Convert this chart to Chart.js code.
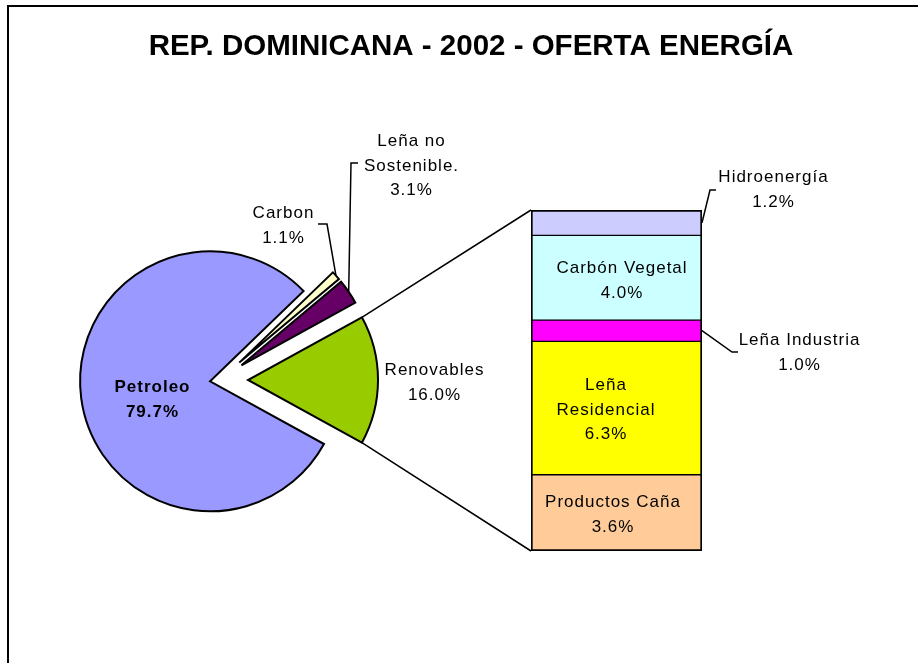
<!DOCTYPE html>
<html>
<head>
<meta charset="utf-8">
<script src="https://cdn.jsdelivr.net/npm/chart.js@4.4.1/dist/chart.umd.min.js"></script>
<style>
html, body { margin: 0; padding: 0; background: #fff; }
#wrap { position: relative; width: 918px; height: 663px; overflow: hidden; background: #fff; }
#frame { position: absolute; left: 7px; top: 5px; width: 2000px; height: 2000px; border: 2px solid #000; box-sizing: border-box; }
canvas { position: absolute; left: 0; top: 0; }
</style>
</head>
<body>
<div id="wrap">
  <div id="frame"></div>
  <canvas id="pie" width="918" height="663"></canvas>
  <canvas id="bar" width="918" height="663"></canvas>
</div>
<script>
// ---------- DATA ----------
const TITLE = 'REP. DOMINICANA - 2002 - OFERTA ENERGÍA';
const pieCategories = ['Petroleo', 'Carbon', 'Leña no Sostenible.', 'Renovables'];
const pieValues = [79.7, 1.1, 3.1, 16.0];
const barCategories = ['Productos Caña', 'Leña Residencial', 'Leña Industria', 'Carbón Vegetal', 'Hidroenergía'];
const barValues = [3.6, 6.3, 1.0, 4.0, 1.2];

// ---------- STYLE / LAYOUT ----------
const FONT = "'Liberation Sans', Arial, sans-serif";
const pieColors = ['#9999FF', '#FFFFCC', '#660066', '#99CC00'];
const barColors = ['#FFCC99', '#FFFF00', '#FF00FF', '#CCFFFF', '#CCCCFF'];
const pieExplode = [10, 26, 26, 28];
const pieWrap = { 'Leña no Sostenible.': ['Leña no', 'Sostenible.'] };
const barWrap = { 'Leña Residencial': ['Leña', 'Residencial'] };
const LH = 24.5;
// pie label block centres and leader elbows
const pieLabelPos = [
  { x: 152, y: 400, bold: true },
  { x: 283, y: 226, leader: [[327, 224], [318, 224]] },
  { x: 411, y: 166, leader: [[351, 163], [358, 163]] },
  { x: 434, y: 383 }
];
// bar labels: inside (dx, dy from segment centre) or outside with leader
const barLabelPos = [
  { inside: true, dx: -4, dy: 2 },
  { inside: true, dx: -11, dy: 2 },
  { x: 799, y: 353, leader: [[732, 352], [738, 352]] },
  { inside: true, dx: 5, dy: 3 },
  { x: 773, y: 190, leader: [[710, 190], [716, 190]] }
];

const pieTotal = pieValues.reduce((a, b) => a + b, 0);
const barTotal = barValues.reduce((a, b) => a + b, 0);
const pct = v => v.toFixed(1) + '%';

function linesFor(name, wrap) { return (wrap[name] || [name]); }
function drawBlock(ctx, lines, cx, cy) {
  const n = lines.length;
  lines.forEach((t, k) => ctx.fillText(t, cx + 0.5, cy + (k - (n - 1) / 2) * LH));
}

// pie: draw each slice displaced along its mid-angle (exploded)
const explodePlugin = {
  id: 'explode',
  beforeDatasetDraw(chart, args) {
    const ctx = chart.ctx;
    args.meta.data.forEach((arc, i) => {
      const mid = (arc.startAngle + arc.endAngle) / 2;
      const d = pieExplode[i];
      ctx.save();
      ctx.translate(Math.cos(mid) * d, Math.sin(mid) * d);
      arc.draw(ctx);
      ctx.restore();
    });
    return false;
  }
};

const pieChart = new Chart(document.getElementById('pie'), {
  type: 'pie',
  data: {
    labels: pieCategories,
    datasets: [{
      data: pieValues,
      backgroundColor: pieColors,
      borderColor: '#000',
      borderWidth: 2,
      borderJoinStyle: 'miter'
    }]
  },
  options: {
    responsive: false,
    animation: false,
    events: [],
    radius: 130,
    rotation: 90 + 180 * pieValues[3] / pieTotal,
    layout: { padding: { left: 90, right: 918 - 350, top: 250, bottom: 663 - 510 } },
    plugins: { legend: { display: false }, tooltip: { enabled: false }, title: { display: false } }
  },
  plugins: [explodePlugin]
});

function arcGeom(i) {
  const arc = pieChart.getDatasetMeta(0).data[i];
  const mid = (arc.startAngle + arc.endAngle) / 2;
  const d = pieExplode[i];
  return { cx: arc.x + Math.cos(mid) * d, cy: arc.y + Math.sin(mid) * d, r: arc.outerRadius, s: arc.startAngle, e: arc.endAngle, mid };
}

const annotatePlugin = {
  id: 'annotate',
  afterDraw(chart) {
    const ctx = chart.ctx;
    ctx.save();
    ctx.strokeStyle = '#000';
    ctx.lineWidth = 1.5;
    ctx.lineJoin = 'miter';

    // connector lines from Renovables slice to bar corners
    const g = arcGeom(3);
    const bars = barValues.map((_, i) => chart.getDatasetMeta(i).data[0]);
    const bottom = bars[0], top = bars[bars.length - 1];
    const leftX = top.x - top.width / 2;
    ctx.beginPath();
    ctx.moveTo(g.cx + g.r * Math.cos(g.s), g.cy + g.r * Math.sin(g.s));
    ctx.lineTo(leftX, top.y);
    ctx.moveTo(g.cx + g.r * Math.cos(g.e), g.cy + g.r * Math.sin(g.e));
    ctx.lineTo(leftX, bottom.base);
    ctx.stroke();

    ctx.fillStyle = '#000';
    ctx.textAlign = 'center';
    ctx.textBaseline = 'middle';
    ctx.letterSpacing = '1px';

    // pie labels
    pieCategories.forEach((name, i) => {
      const p = pieLabelPos[i];
      if (p.leader) {
        const a = arcGeom(i);
        ctx.beginPath();
        ctx.moveTo(a.cx + a.r * Math.cos(a.mid), a.cy + a.r * Math.sin(a.mid));
        p.leader.forEach(pt => ctx.lineTo(pt[0], pt[1]));
        ctx.stroke();
      }
      ctx.font = (p.bold ? 'bold ' : '') + '17px ' + FONT;
      drawBlock(ctx, [...linesFor(name, pieWrap), pct(pieValues[i])], p.x, p.y);
    });

    // bar labels
    barCategories.forEach((name, i) => {
      const b = bars[i];
      const p = barLabelPos[i];
      const lines = [...linesFor(name, barWrap), pct(barValues[i])];
      ctx.font = '17px ' + FONT;
      if (p.inside) {
        drawBlock(ctx, lines, b.x + p.dx, (b.y + b.base) / 2 + p.dy);
      } else {
        ctx.beginPath();
        ctx.moveTo(b.x + b.width / 2, (b.y + b.base) / 2);
        p.leader.forEach(pt => ctx.lineTo(pt[0], pt[1]));
        ctx.stroke();
        drawBlock(ctx, lines, p.x, p.y);
      }
    });
    ctx.restore();
  }
};

const nBars = barValues.length;
const barChart = new Chart(document.getElementById('bar'), {
  type: 'bar',
  data: {
    labels: ['Renovables'],
    datasets: barCategories.map((name, i) => ({
      label: name,
      data: [barValues[i]],
      backgroundColor: barColors[i],
      borderColor: '#000',
      borderWidth: { left: 2, right: 2, top: i === nBars - 1 ? 2 : 1, bottom: i === 0 ? 2 : 1 },
      borderSkipped: false,
      barPercentage: 1,
      categoryPercentage: 1
    }))
  },
  options: {
    responsive: false,
    animation: false,
    events: [],
    layout: { padding: { left: 24, right: 0, top: 0, bottom: 112 } },
    scales: {
      x: { display: false, stacked: true },
      y: {
        stacked: true, min: 0, max: barTotal, position: 'left',
        ticks: { display: false }, grid: { display: false }, border: { display: false },
        afterFit(s) { s.width = 507; }
      },
      y2: {
        position: 'right',
        ticks: { display: false }, grid: { display: false }, border: { display: false },
        afterFit(s) { s.width = 216; }
      }
    },
    plugins: {
      legend: { display: false },
      tooltip: { enabled: false },
      title: {
        display: true,
        text: TITLE,
        color: '#000',
        font: { family: FONT, size: 29.5, weight: 'bold', lineHeight: 1.2 },
        padding: { top: 29, bottom: 145.6 }
      }
    }
  },
  plugins: [annotatePlugin]
});
</script>
</body>
</html>
